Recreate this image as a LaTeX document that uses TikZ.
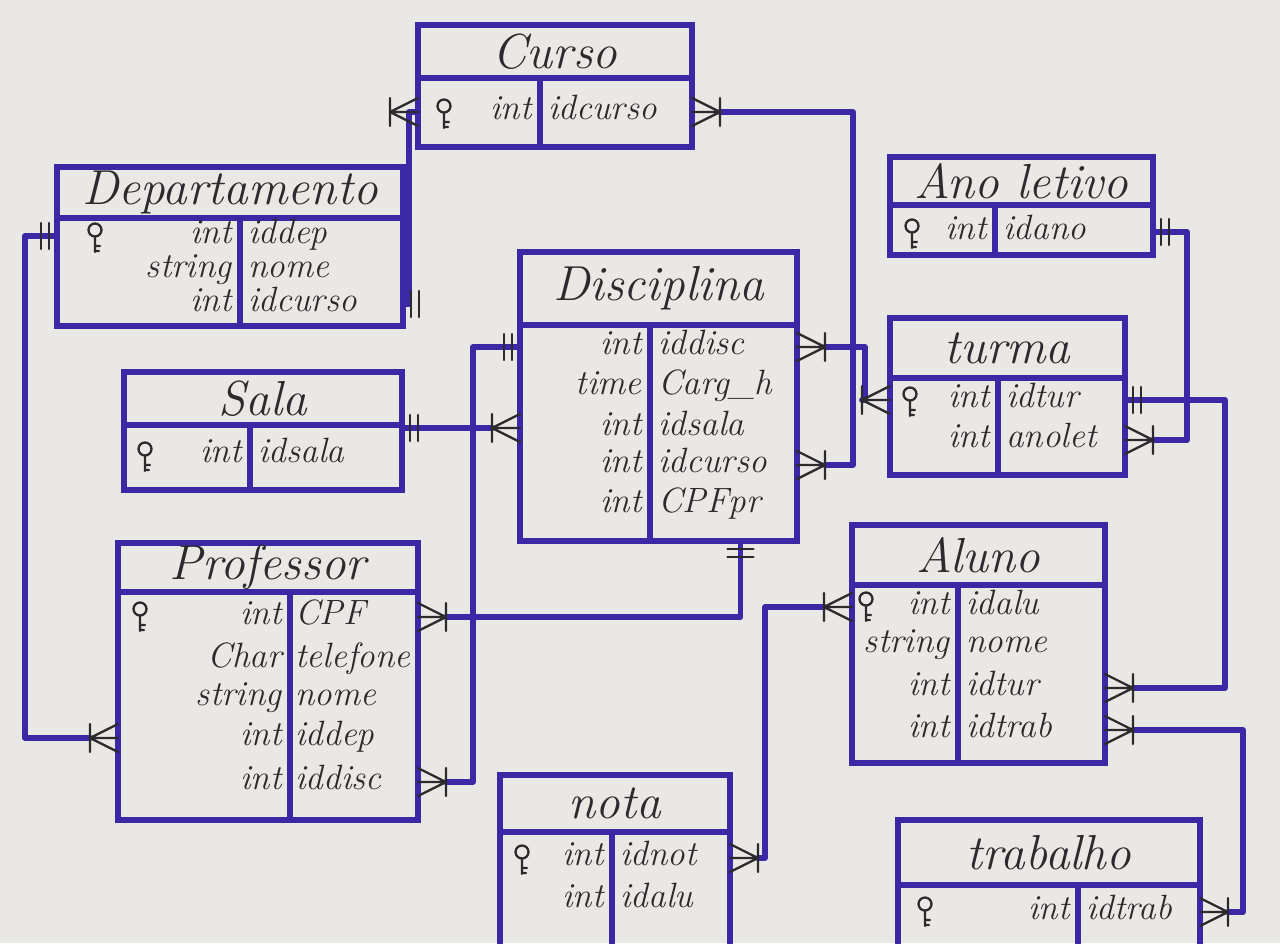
\documentclass[tikz,border=0pt]{standalone}
\usepackage{tikz}

\definecolor{ink}{RGB}{58,40,165}
\definecolor{pencil}{RGB}{45,42,45}
\definecolor{paper}{RGB}{234,232,229}

\begin{document}
\begin{tikzpicture}[x=0.02cm, y=-0.02cm,
  hdr/.style={draw=ink, line width=3.3pt, anchor=north west, inner sep=0pt, outer sep=0pt,
    text=pencil, font=\fontsize{28}{32}\selectfont\itshape},
  colbox/.style={draw=ink, line width=3.3pt, anchor=north west, inner sep=0pt, outer sep=0pt},
  typ/.style={anchor=east, inner sep=0pt, text=pencil, text height=12pt, text depth=3.4pt,
    font=\fontsize{20}{24}\selectfont\itshape},
  att/.style={typ, anchor=west},
  conn/.style={draw=ink, line width=3.3pt, line join=round, line cap=round},
  startmany/.style={shorten <=0.56cm},
  endmany/.style={shorten >=0.56cm},
  footink/.style={draw=pencil, line width=1.3pt, line cap=round, shorten <=0pt, shorten >=0pt},
  crowmany/.pic={\draw[footink] (0,-14) -- (28,0) -- (0,14) (0,0) -- (28,0) (28,-14) -- (28,14);},
  crowone/.pic={\draw[footink] (8,-13) -- (8,13) (16,-13) -- (16,13);},
  pkkey/.pic={\draw[footink] (0,-6) circle[radius=6.5] (0,0.5) -- (0,16) (0,10) -- (5,10) (0,15) -- (4,15);}
]
\useasboundingbox (0,0) rectangle (1280,943);
\fill[paper] (0,0) rectangle (1280,943);

% Curso
\node[hdr, minimum width=5.48cm, minimum height=1.06cm] (curso) at (418,25) {Curso};
\node[colbox, minimum width=2.44cm, minimum height=1.38cm] (cursoT) at (curso.south west) {};
\node[colbox, minimum width=3.04cm, minimum height=1.38cm] (cursoN) at (cursoT.north east) {};
\node[typ] (cursoTy1) at (532,112) {int};
\node[att] (cursoId) at (548,112) {idcurso};
\pic at (444,112) {pkkey};

% Departamento
\node[hdr, minimum width=6.92cm, minimum height=1.02cm] (dep) at (57,167) {Departamento};
\node[colbox, minimum width=3.66cm, minimum height=2.16cm] (depT) at (dep.south west) {};
\node[colbox, minimum width=3.26cm, minimum height=2.16cm] (depN) at (depT.north east) {};
\node[typ] (depTy1) at (232,236) {int};
\node[typ] (depTy2) at (232,270) {string};
\node[typ] (depTy3) at (232,304) {int};
\node[att] (depIddep) at (248,236) {iddep};
\node[att] (depNome) at (248,270) {nome};
\node[att] (depCurso) at (248,304) {idcurso};
\pic at (95,236) {pkkey};

% Disciplina
\node[hdr, minimum width=5.54cm, minimum height=1.46cm] (disc) at (520,252) {Disciplina};
\node[colbox, minimum width=2.6cm, minimum height=4.32cm] (discT) at (disc.south west) {};
\node[colbox, minimum width=2.94cm, minimum height=4.32cm] (discN) at (discT.north east) {};
\node[typ] (discTy1) at (642,347) {int};
\node[typ] (discTy2) at (642,387) {time};
\node[typ] (discTy3) at (642,428) {int};
\node[typ] (discTy4) at (642,465) {int};
\node[typ] (discTy5) at (642,505) {int};
\node[att] (discIddisc) at (658,347) {iddisc};
\node[att] (discCarga) at (658,387) {Carg\_h};
\node[att] (discSala) at (658,428) {idsala};
\node[att] (discCurso) at (658,465) {idcurso};
\node[att] (discCPF) at (658,505) {CPFpr};

% Ano letivo
\node[hdr, minimum width=5.26cm, minimum height=0.96cm] (ano) at (890,157) {Ano letivo};
\node[colbox, minimum width=2.1cm, minimum height=1.0cm] (anoT) at (ano.south west) {};
\node[colbox, minimum width=3.16cm, minimum height=1.0cm] (anoN) at (anoT.north east) {};
\node[typ] (anoTy1) at (987,232) {int};
\node[att] (anoId) at (1003,232) {idano};
\pic at (912,232) {pkkey};

% turma
\node[hdr, minimum width=4.7cm, minimum height=1.2cm] (turma) at (890,318) {turma};
\node[colbox, minimum width=2.16cm, minimum height=1.94cm] (turmaT) at (turma.south west) {};
\node[colbox, minimum width=2.54cm, minimum height=1.94cm] (turmaN) at (turmaT.north east) {};
\node[typ] (turmaTy1) at (990,400) {int};
\node[typ] (turmaTy2) at (990,440) {int};
\node[att] (turmaIdtur) at (1006,400) {idtur};
\node[att] (turmaAnolet) at (1006,440) {anolet};
\pic at (910,400) {pkkey};

% Sala
\node[hdr, minimum width=5.56cm, minimum height=1.06cm] (sala) at (124,372) {Sala};
\node[colbox, minimum width=2.52cm, minimum height=1.3cm] (salaT) at (sala.south west) {};
\node[colbox, minimum width=3.04cm, minimum height=1.3cm] (salaN) at (salaT.north east) {};
\node[typ] (salaTy1) at (242,455) {int};
\node[att] (salaId) at (258,455) {idsala};
\pic at (145,455) {pkkey};

% Professor
\node[hdr, minimum width=6.0cm, minimum height=0.98cm] (prof) at (118,543) {Professor};
\node[colbox, minimum width=3.44cm, minimum height=4.56cm] (profT) at (prof.south west) {};
\node[colbox, minimum width=2.56cm, minimum height=4.56cm] (profN) at (profT.north east) {};
\node[typ] (profTy1) at (282,617) {int};
\node[typ] (profTy2) at (282,660) {Char};
\node[typ] (profTy3) at (282,698) {string};
\node[typ] (profTy4) at (282,738) {int};
\node[typ] (profTy5) at (282,782) {int};
\node[att] (profCPF) at (295,617) {CPF};
\node[att] (profFone) at (295,660) {telefone};
\node[att] (profNome) at (295,698) {nome};
\node[att] (profIddep) at (295,738) {iddep};
\node[att] (profIddisc) at (295,782) {iddisc};
\pic at (140,615) {pkkey};

% Aluno
\node[hdr, minimum width=5.06cm, minimum height=1.2cm] (aluno) at (852,525) {Aluno};
\node[colbox, minimum width=2.12cm, minimum height=3.56cm] (alunoT) at (aluno.south west) {};
\node[colbox, minimum width=2.94cm, minimum height=3.56cm] (alunoN) at (alunoT.north east) {};
\node[typ] (alunoTy1) at (950,607) {int};
\node[typ] (alunoTy2) at (950,645) {string};
\node[typ] (alunoTy3) at (950,688) {int};
\node[typ] (alunoTy4) at (950,730) {int};
\node[att] (alunoIdalu) at (966,607) {idalu};
\node[att] (alunoNome) at (966,645) {nome};
\node[att] (alunoIdtur) at (966,688) {idtur};
\node[att] (alunoIdtrab) at (966,730) {idtrab};
\pic at (866,605) {pkkey};

% nota
\node[hdr, minimum width=4.6cm, minimum height=1.14cm] (nota) at (500,775) {nota};
\node[colbox, minimum width=2.24cm, minimum height=2.5cm] (notaT) at (nota.south west) {};
\node[colbox, minimum width=2.36cm, minimum height=2.5cm] (notaN) at (notaT.north east) {};
\node[typ] (notaTy1) at (604,858) {int};
\node[typ] (notaTy2) at (604,900) {int};
\node[att] (notaIdnot) at (620,858) {idnot};
\node[att] (notaIdalu) at (620,900) {idalu};
\pic at (522,858) {pkkey};

% trabalho
\node[hdr, minimum width=6.04cm, minimum height=1.3cm] (trab) at (898,820) {trabalho};
\node[colbox, minimum width=3.6cm, minimum height=1.5cm] (trabT) at (trab.south west) {};
\node[colbox, minimum width=2.44cm, minimum height=1.5cm] (trabN) at (trabT.north east) {};
\node[typ] (trabTy1) at (1070,912) {int};
\node[att] (trabId) at (1086,912) {idtrab};
\pic at (925,910) {pkkey};

% ligacoes
\draw[conn, startmany, endmany] (cursoId -| cursoN.east) pic{crowmany}
  -- ++(161,0) |- (discCurso -| discN.east) pic{crowmany};
\draw[conn] (depCurso -| depN.east) pic{crowone}
  -- ++(6,0) |- (cursoTy1 -| cursoT.west) pic[rotate=180]{crowmany};
\draw[conn, endmany] (depTy1 -| depT.west) pic[rotate=180]{crowone}
  -- ++(-32,0) |- (profIddep -| profT.west) pic[rotate=180]{crowmany};
\draw[conn, endmany] (discSala -| salaN.east) pic{crowone}
  -- (discSala -| discT.west) pic[rotate=180]{crowmany};
\draw[conn, endmany] (discIddisc -| discT.west) pic[rotate=180]{crowone}
  -- ++(-47,0) |- (profIddisc -| profN.east) pic{crowmany};
\draw[conn, endmany] ([xshift=0.34cm]discN.south) pic[rotate=-90]{crowone}
  |- (profCPF -| profN.east) pic{crowmany};
\draw[conn, startmany, endmany] (discIddisc -| discN.east) pic{crowmany}
  -- ++(68,0) |- (turmaTy1 -| turmaT.west) pic[rotate=180]{crowmany};
\draw[conn, endmany] (anoId -| anoN.east) pic{crowone}
  -- ++(34,0) |- (turmaAnolet -| turmaN.east) pic{crowmany};
\draw[conn, endmany] (turmaIdtur -| turmaN.east) pic{crowone}
  -- ++(100,0) |- (alunoIdtur -| alunoN.east) pic{crowmany};
\draw[conn, startmany, endmany] (alunoTy1 -| alunoT.west) pic[rotate=180]{crowmany}
  -- ++(-87,0) |- (notaIdnot -| notaN.east) pic{crowmany};
\draw[conn, startmany, endmany] (alunoIdtrab -| alunoN.east) pic{crowmany}
  -- ++(138,0) |- (trabId -| trabN.east) pic{crowmany};
\end{tikzpicture}
\end{document}
